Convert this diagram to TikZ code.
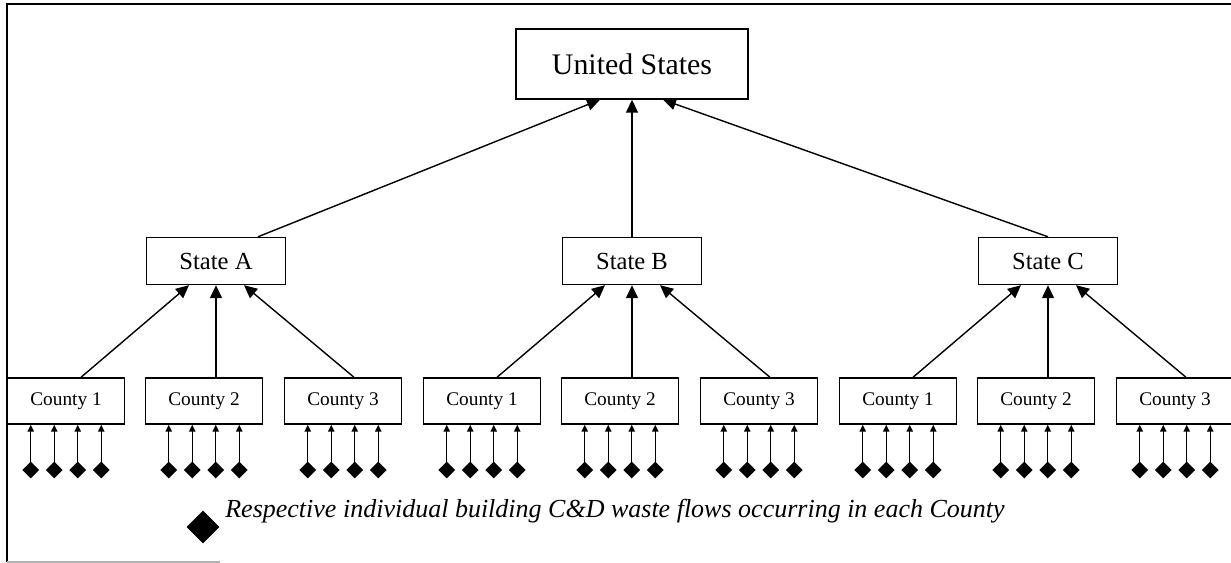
\documentclass[tikz,border=0pt]{standalone}
\usepackage{fontspec}
\setmainfont{Liberation Serif}
\usetikzlibrary{arrows.meta, shapes.geometric}

\begin{document}
\begin{tikzpicture}[x=0.02cm, y=-0.02cm,
    box/.style={draw, line width=0.8pt, inner sep=0pt},
    topbox/.style={box, minimum width=4.64cm, minimum height=1.4cm, font=\fontsize{17}{20}\selectfont},
    statebox/.style={box, minimum width=2.78cm, minimum height=0.94cm, font=\fontsize{14}{17}\selectfont},
    countybox/.style={box, minimum width=2.34cm, minimum height=0.92cm, font=\fontsize{11}{13}\selectfont},
    flow/.style={line width=0.8pt, -{Triangle[length=0.26cm, width=0.24cm]}},
    foot/.style={line width=0.8pt, -{Triangle[length=0.14cm, width=0.13cm]}},
    site/.style={diamond, fill=black, inner sep=0pt, minimum size=0.34cm}]
\useasboundingbox (0,0) rectangle (1231,563);
\draw[line width=0.8pt] (1231,4) -- (7,4) -- (7,562);
\draw[gray!60, line width=0.8pt] (7,562) -- (220,562);

\node[topbox] (us) at (632,64) {United States};

\foreach \s/\sx in {A/216, B/632, C/1048}{
    \node[statebox] (s\s) at (\sx,261) {State \s};
    \foreach \n/\dx in {1/-150, 2/-12, 3/127}{
        \node[countybox] (c\s\n) at (\sx+\dx,401) {County \n};
        \foreach \k/\kx in {1/-35.25, 2/-11.75, 3/11.75, 4/35.25}{
            \node[site] (d\s\n\k) at (\sx+\dx+\kx,470) {};
            \draw[foot] (d\s\n\k.center) -- (d\s\n\k.center |- c\s\n.south);
        }
    }
    \draw[flow] ([xshift=0.3cm]c\s1.north) -- ([xshift=-0.54cm]s\s.south);
    \draw[flow] (s\s.south |- c\s2.north) -- (s\s.south);
    \draw[flow] ([xshift=0.22cm]c\s3.north) -- ([xshift=0.56cm]s\s.south);
}

\draw[flow] ([xshift=0.84cm]sA.north) -- ([xshift=-0.64cm]us.south);
\draw[flow] (sB.north) -- (us.south);
\draw[flow] (sC.north) -- ([xshift=0.62cm]us.south);

\node[site, minimum size=0.66cm] (key) at (203,527) {};
\node[anchor=base west, inner sep=0pt, font=\fontsize{14.8}{17}\selectfont\itshape] (keytext) at (225,518)
    {Respective individual building C\&D waste flows occurring in each County};

\end{tikzpicture}
\end{document}
